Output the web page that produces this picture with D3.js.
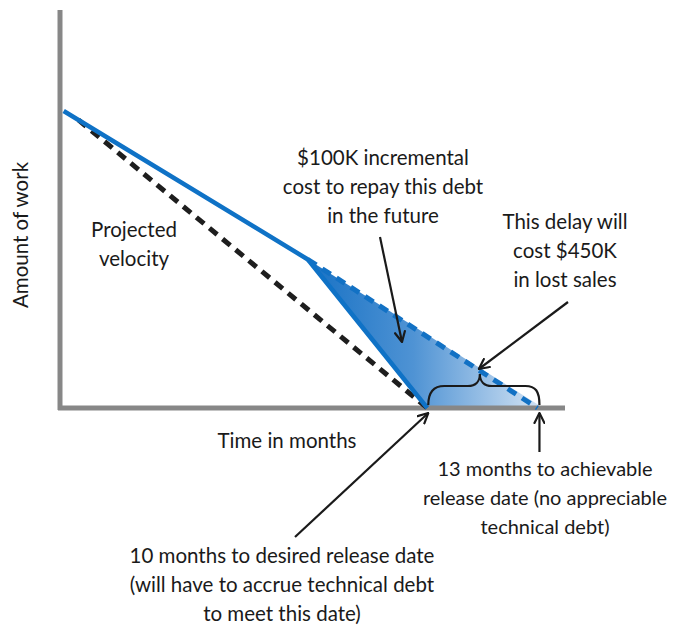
<!DOCTYPE html>
<html lang="en">
<head>
<meta charset="utf-8">
<title>Technical debt</title>
<script src="https://cdn.jsdelivr.net/npm/d3@7"></script>
<style>
  body { margin: 0; background: #fff; }
  text { font-family: "Lato", "Noto Sans", sans-serif; fill: #1a1a1a; font-size: 20.5px; }
</style>
</head>
<body>
<script>
// Data (months, amount of work)
var actualMonths   = [0.1, 6.75, 10];
var actualWork     = [100, 50, 0];
var projectedMonths = [0.5, 10];
var projectedWork   = [97, 0];
var repayMonths    = [6.75, 13];
var repayWork      = [50, 0];
var desiredMonth = 10;
var achievableMonth = 13;

var width = 675, height = 629;
var svg = d3.select("body").append("svg")
    .attr("width", width)
    .attr("height", height);

var x = d3.scaleLinear().domain([0, 13.75]).range([60, 565]);
var y = d3.scaleLinear().domain([0, 134]).range([408, 10]);

function pts(xs, ys) {
    return xs.map(function(d, i) { return [x(d), y(ys[i])]; });
}
var line = d3.line();

// gradient for debt area
var defs = svg.append("defs");
var grad = defs.append("linearGradient")
    .attr("id", "debtGrad")
    .attr("gradientUnits", "userSpaceOnUse")
    .attr("x1", x(repayMonths[0])).attr("x2", x(achievableMonth) + 5)
    .attr("y1", 0).attr("y2", 0);
grad.append("stop").attr("offset", "0%").attr("stop-color", "#1771c4");
grad.append("stop").attr("offset", "45%").attr("stop-color", "#4f93d4");
grad.append("stop").attr("offset", "100%").attr("stop-color", "#d5e4f4");

defs.append("marker")
    .attr("id", "arrow")
    .attr("viewBox", "0 0 12 12")
    .attr("refX", 11).attr("refY", 6)
    .attr("markerWidth", 12).attr("markerHeight", 12)
    .attr("markerUnits", "userSpaceOnUse")
    .attr("orient", "auto")
    .append("path")
    .attr("d", "M1,1 L11,6 L1,11")
    .attr("fill", "none")
    .attr("stroke", "#1a1a1a")
    .attr("stroke-width", 2.2)
    .attr("stroke-linecap", "round")
    .attr("stroke-linejoin", "round");

// shaded debt area
var areaPts = [
    [x(repayMonths[0]), y(repayWork[0])],
    [x(desiredMonth), y(0)],
    [x(achievableMonth) + 6, y(0)]
];
svg.append("path")
    .attr("d", line(areaPts) + "Z")
    .attr("fill", "url(#debtGrad)");

// axes
svg.append("line")
    .attr("x1", x(0)).attr("x2", x(0))
    .attr("y1", y(134)).attr("y2", y(0) + 2)
    .attr("stroke", "#878787").attr("stroke-width", 5);
svg.append("line")
    .attr("x1", x(0) - 2).attr("x2", x(13.75))
    .attr("y1", y(0)).attr("y2", y(0))
    .attr("stroke", "#878787").attr("stroke-width", 5);

// projected velocity (black dashed)
svg.append("path")
    .attr("d", line(pts(projectedMonths, projectedWork)))
    .attr("fill", "none")
    .attr("stroke", "#1e1e1e")
    .attr("stroke-width", 5)
    .attr("stroke-dasharray", "10,7");

// repay line (blue dashed)
svg.append("path")
    .attr("d", line(pts(repayMonths, repayWork)))
    .attr("fill", "none")
    .attr("stroke", "#1271c4")
    .attr("stroke-width", 5)
    .attr("stroke-dasharray", "10,7");

// actual (blue solid)
svg.append("path")
    .attr("d", line(pts(actualMonths, actualWork)))
    .attr("fill", "none")
    .attr("stroke", "#0f72c6")
    .attr("stroke-width", 4.5)
    .attr("stroke-linejoin", "round");

// brace between 10 and 13 months
var bx0 = x(desiredMonth) + 1, bx1 = x(achievableMonth) + 2, by = y(0) - 3;
var bm = (bx0 + bx1) / 2 - 4;
var brace = d3.path();
brace.moveTo(bx0, by);
brace.bezierCurveTo(bx0, by - 14, bx0 + 6, by - 19, bx0 + 16, by - 19);
brace.lineTo(bm - 12, by - 19);
brace.bezierCurveTo(bm - 4, by - 19, bm, by - 24, bm, by - 31);
brace.bezierCurveTo(bm, by - 24, bm + 4, by - 19, bm + 12, by - 19);
brace.lineTo(bx1 - 14, by - 19);
brace.bezierCurveTo(bx1 - 4, by - 19, bx1, by - 14, bx1, by);
svg.append("path")
    .attr("d", brace.toString())
    .attr("fill", "none")
    .attr("stroke", "#1a1a1a")
    .attr("stroke-width", 2.2);

// arrows
var arrows = [
    [[380, 237], [402, 342]],
    [[568, 302], [bm - 1, by - 36]],
    [[295, 537], [x(desiredMonth) + 1, y(0) + 5]],
    [[x(achievableMonth) + 2, 452], [x(achievableMonth) + 2, y(0) + 5]]
];
arrows.forEach(function(a) {
    svg.append("line")
        .attr("x1", a[0][0]).attr("y1", a[0][1])
        .attr("x2", a[1][0]).attr("y2", a[1][1])
        .attr("stroke", "#1a1a1a")
        .attr("stroke-width", 2.2)
        .attr("marker-end", "url(#arrow)");
});

// text annotations
var notes = [
    {x: 383, y: 165, size: 20.5, lines: ["$100K incremental", "cost to repay this debt", "in the future"]},
    {x: 565, y: 229, size: 20.5, lines: ["This delay will", "cost $450K", "in lost sales"]},
    {x: 134, y: 237, size: 20.5, lines: ["Projected", "velocity"]},
    {x: 287, y: 448, size: 20.5, lines: ["Time in months"]},
    {x: 545, y: 476, size: 20, lines: ["13 months to achievable", "release date (no appreciable", "technical debt)"]},
    {x: 282, y: 563, size: 20.5, lines: ["10 months to desired release date", "(will have to accrue technical debt", "to meet this date)"]}
];
notes.forEach(function(n) {
    var t = svg.append("text")
        .attr("text-anchor", "middle")
        .style("font-size", n.size + "px");
    n.lines.forEach(function(l, i) {
        t.append("tspan")
            .attr("x", n.x)
            .attr("y", n.y + i * 29)
            .text(l);
    });
});

svg.append("text")
    .attr("text-anchor", "middle")
    .attr("transform", "translate(28,235) rotate(-90)")
    .text("Amount of work");
</script>
</body>
</html>
